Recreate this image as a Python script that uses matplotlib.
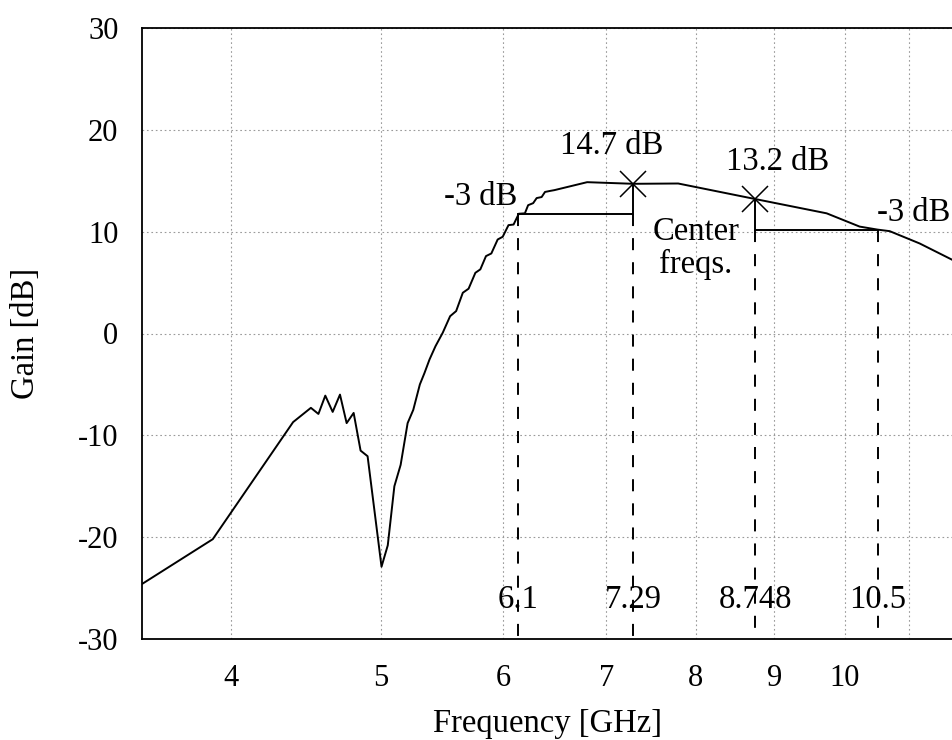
import numpy as np
import matplotlib
matplotlib.use('Agg')
import matplotlib.pyplot as plt
from matplotlib.ticker import FixedLocator, NullFormatter

# Measured gain curve (frequency in GHz, gain in dB)
FREQ = [3.5, 3.89, 4.386, 4.504, 4.555, 4.602, 4.653, 4.704, 4.751, 4.801,
        4.851, 4.902, 5.005, 5.052, 5.102, 5.15, 5.204, 5.248, 5.30, 5.336,
        5.377, 5.425, 5.484, 5.545, 5.595, 5.651, 5.70, 5.758, 5.801, 5.85,
        5.897, 5.953, 5.998, 6.05, 6.096, 6.144, 6.20, 6.23, 6.277, 6.31,
        6.357, 6.389, 6.437, 6.48, 6.804, 7.29, 7.795, 8.748, 9.73, 10.22,
        10.5, 10.69, 11.18, 11.75]
GAIN = [-24.6, -20.2, -8.7, -7.3, -7.9, -6.1, -7.7, -6.0, -8.8, -7.8,
        -11.5, -12.05, -22.9, -20.8, -15.0, -12.9, -8.8, -7.5, -5.0, -3.9,
        -2.55, -1.25, 0.07, 1.7, 2.2, 4.0, 4.4, 5.96, 6.3, 7.6,
        7.86, 9.23, 9.5, 10.64, 10.7, 11.76, 11.8, 12.6, 12.8, 13.3,
        13.4, 13.9, 14.0, 14.08, 14.86, 14.7, 14.73, 13.2, 11.8, 10.5,
        10.2, 10.05, 8.84, 7.2]

# Marked points
PEAKS_F = [7.29, 8.748]
PEAKS_G = [14.7, 13.2]
PEAK_LABELS = ['14.7 dB', '13.2 dB']
EDGES_F = [6.14, 10.5]         # -3 dB edges
EDGES_G = [11.7, 10.2]
MARK_LABELS = ['6.1', '7.29', '8.748', '10.5']

X_TICKS = [4, 5, 6, 7, 8, 9, 10]
X_MINOR = [11]
Y_TICKS = [-30, -20, -10, 0, 10, 20, 30]

plt.rcParams['font.family'] = ['Liberation Serif', 'DejaVu Serif']
plt.rcParams['axes.unicode_minus'] = False
FS_TICK = 22
FS = 23.5

fig = plt.figure(figsize=(9.53, 7.40), dpi=100)
ax = fig.add_axes([142 / 953, 101 / 740, 1 - 142 / 953, 611 / 740])

ax.set_xscale('log')
ax.set_xlim(3.5, 11.75)
ax.set_ylim(-30, 30)

ax.xaxis.set_major_locator(FixedLocator(X_TICKS))
ax.xaxis.set_minor_locator(FixedLocator(X_MINOR))
ax.xaxis.set_minor_formatter(NullFormatter())
ax.set_xticklabels([str(t) for t in X_TICKS])
ax.set_yticks(Y_TICKS)
ax.tick_params(which='both', length=0, labelsize=FS_TICK)
ax.tick_params(axis='x', pad=18)
ax.tick_params(axis='y', pad=17)

grid_kw = dict(color='#9a9a9a', linewidth=0.8, linestyle=(0, (1.5, 2.5)))
ax.grid(True, which='both', axis='x', **grid_kw)
ax.grid(True, which='major', axis='y', **grid_kw)
ax.set_axisbelow(True)

ax.spines['right'].set_visible(False)
for s in ['left', 'top', 'bottom']:
    ax.spines[s].set_linewidth(1.3)

LW = 1.4
ax.plot(FREQ, GAIN, color='black', linewidth=LW)

# brackets from the peaks down to the -3 dB level
ax.plot([EDGES_F[0], PEAKS_F[0], PEAKS_F[0]], [EDGES_G[0], EDGES_G[0], PEAKS_G[0]],
        color='black', linewidth=LW)
ax.plot([PEAKS_F[1], PEAKS_F[1], EDGES_F[1]], [PEAKS_G[1], EDGES_G[1], EDGES_G[1]],
        color='black', linewidth=LW)

# dashed drop lines
marks_f = [EDGES_F[0], PEAKS_F[0], PEAKS_F[1], EDGES_F[1]]
marks_top = [EDGES_G[0], EDGES_G[0], EDGES_G[1], EDGES_G[1]]
for f, top in zip(marks_f, marks_top):
    ax.plot([f, f], [top, -30], color='black', linewidth=LW,
            linestyle=(0, (6.2, 6.2)))

ax.plot(PEAKS_F, PEAKS_G, linestyle='none', marker='x', markersize=19,
        markeredgewidth=1.1, color='black')

for f, lab in zip(marks_f, MARK_LABELS):
    ax.text(f, -26.1, lab, ha='center', va='center', fontsize=FS)

ax.text(7.06, 18.4, PEAK_LABELS[0], ha='center', va='center', fontsize=FS)
ax.text(9.04, 16.9, PEAK_LABELS[1], ha='center', va='center', fontsize=FS)
ax.text(5.80, 13.4, '-3 dB', ha='center', va='center', fontsize=FS)
ax.text(11.08, 11.9, '-3 dB', ha='center', va='center', fontsize=FS)
ax.text(8.01, 10.0, 'Center', ha='center', va='center', fontsize=FS)
ax.text(8.0, 6.8, 'freqs.', ha='center', va='center', fontsize=FS)

ax.set_xlabel('Frequency [GHz]', fontsize=FS)
ax.set_ylabel('Gain [dB]', fontsize=FS)
ax.xaxis.set_label_coords(0.5, -0.113)
ax.yaxis.set_label_coords(-0.125, 0.5)

fig.savefig('out.png', dpi=100)
